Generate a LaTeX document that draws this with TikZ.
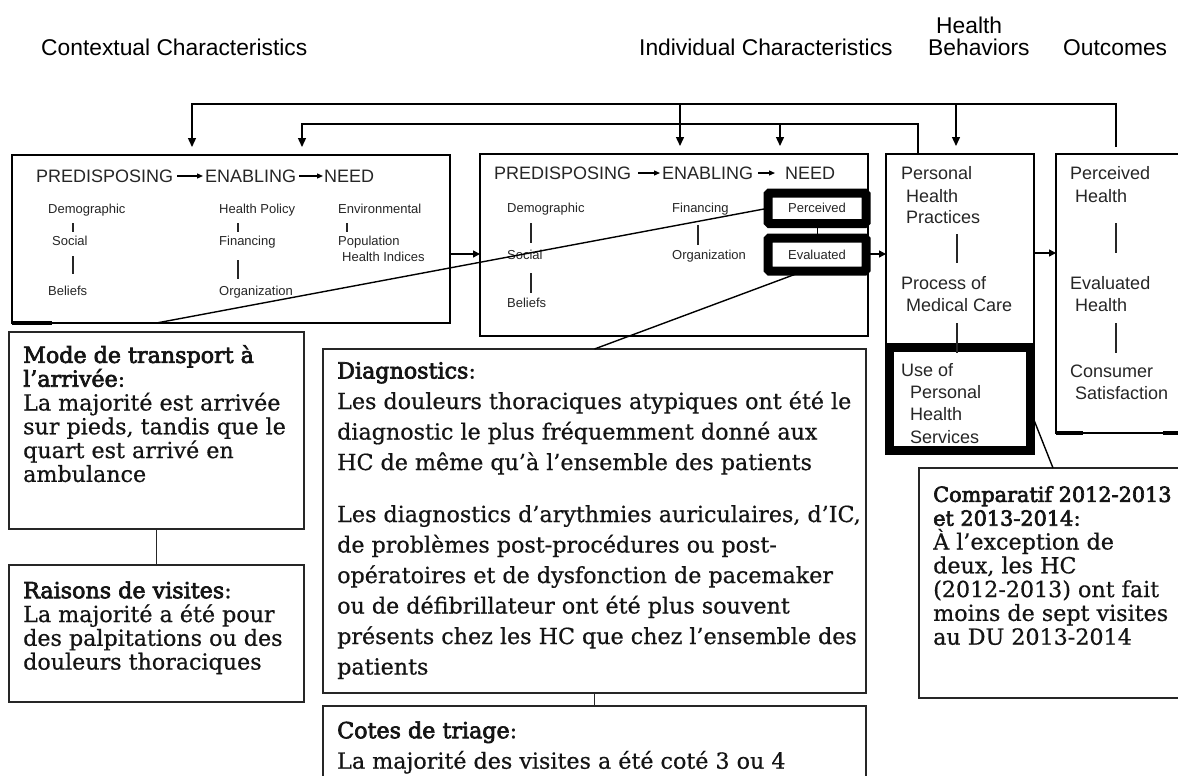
\documentclass[tikz,border=0pt]{standalone}
\usepackage{fontspec}
\newfontfamily\sansf{Liberation Sans}
\newfontfamily\serf[FakeBold=0.6]{DejaVu Serif}
\newfontfamily\serfb[FakeBold=3]{DejaVu Serif}
\newcommand\hd[1]{{\serfb #1}}
\usetikzlibrary{arrows.meta,calc}

\begin{document}
\begin{tikzpicture}[x=1pt,y=-1pt,
  hdr/.style={font=\sansf\fontsize{22.8}{22.8}\selectfont, anchor=west, inner sep=0pt, text height=16.3pt, text depth=0pt},
  md/.style={font=\sansf\fontsize{18}{18}\selectfont, anchor=west, inner sep=0pt, text height=12.9pt, text depth=0pt, text=black!85},
  sm/.style={font=\sansf\fontsize{13}{13}\selectfont, anchor=west, inner sep=0pt, text height=9.3pt, text depth=0pt, text=black!85},
  box/.style={draw, line width=2.6pt, inner sep=0pt, outer sep=0pt, anchor=north west},
  thickbox/.style={draw, fill=white, line width=9pt, rounded corners=1.5pt, inner sep=0pt, outer sep=0pt, anchor=north west},
  lowbox/.style={draw=black!85, line width=1.3pt, inner sep=0pt, outer sep=0pt, anchor=north west},
  lowtxt/.style={font=\serf\fontsize{22.2}{23.8}\selectfont, align=left, anchor=north west, inner sep=0pt, text=black!92},
  conn/.style={line width=1.4pt},
  inl/.style={line width=1.1pt, black!85},
  thinl/.style={line width=1.3pt, black!85},
  tipA/.style={-{Triangle[length=9pt,width=8pt]}},
  tipB/.style={-{Triangle[length=7pt,width=7pt]}},
  tipC/.style={line width=1.2pt, -{Triangle[length=6pt,width=5pt]}}
]
\useasboundingbox (0,0) rectangle (1178,776);
\fill[white] (0,0) rectangle (1178,776);
\clip (0,0) rectangle (1178,776);

% column headings
\node[hdr] (hCtx) at (41,47) {Contextual Characteristics};
\node[hdr] (hInd) at (639,47) {Individual Characteristics};
\node[hdr] (hHb1) at (936,25) {Health};
\node[hdr] (hHb2) at (928,47) {Behaviors};
\node[hdr] (hOut) at (1063,47) {Outcomes};

% main model boxes
\node[box, minimum width=438pt, minimum height=168pt] (b1) at (12,155) {};
\node[box, minimum width=388pt, minimum height=182pt] (b2) at (480,154) {};
\node[box, minimum width=148pt, minimum height=193pt] (b3) at (886,154) {};
\node[box, minimum width=160pt, minimum height=279pt] (b4) at (1056,154) {};
\draw[line width=4pt] (b1.south west) -- ++(40,0);

% contextual characteristics
\node[md] (pr1) at (36,176) {PREDISPOSING};
\node[md] (en1h) at (205,176) {ENABLING};
\node[md] (ne1) at (324,176) {NEED};
\draw[tipC, shorten <=4pt, shorten >=2pt] (pr1.east) -- (en1h.west);
\draw[tipC, shorten <=3pt, shorten >=1pt] (en1h.east) -- (ne1.west);

\node[sm] (d1) at (48,209) {Demographic};
\node[sm] (s1) at (52,241) {Social};
\node[sm] (be1) at (48,291) {Beliefs};
\draw[inl] ($(d1.west)+(25,14)$) -- ($(s1.west)+(21,-9)$);
\draw[inl] ($(s1.west)+(21,15)$) -- ($(be1.west)+(25,-17)$);
\node[sm] (hp1) at (219,209) {Health Policy};
\node[sm] (f1) at (219,241) {Financing};
\node[sm] (or1) at (219,291) {Organization};
\draw[inl] ($(hp1.west)+(19,14)$) -- ($(f1.west)+(19,-9)$);
\draw[inl] ($(f1.west)+(19,19)$) -- ($(or1.west)+(19,-12)$);
\node[sm] (en1) at (338,209) {Environmental};
\node[sm] (po1) at (338,241) {Population};
\node[sm] (hi1) at (342,257) {Health Indices};
\draw[inl] ($(en1.west)+(9,14)$) -- ($(po1.west)+(9,-9)$);

% individual characteristics
\node[md] (pr2) at (494,173) {PREDISPOSING};
\node[md] (en2h) at (662,173) {ENABLING};
\node[md] (ne2) at (785,173) {NEED};
\draw[tipC, shorten <=7pt, shorten >=2pt] (pr2.east) -- (en2h.west);
\draw[tipC, shorten <=5pt, shorten >=10pt] (en2h.east) -- (ne2.west);

\node[sm] (d2) at (507,208) {Demographic};
\node[sm] (s2) at (507,255) {Social};
\node[sm] (be2) at (507,303) {Beliefs};
\draw[inl] ($(d2.west)+(24,15)$) -- ($(s2.west)+(24,-12)$);
\draw[inl] ($(s2.west)+(24,18)$) -- ($(be2.west)+(24,-10)$);
\node[sm] (f2) at (672,208) {Financing};
\node[sm] (or2) at (672,255) {Organization};
\draw[inl] ($(f2.west)+(26,17)$) -- ($(or2.west)+(26,-10)$);

\node[thickbox, minimum width=98pt, minimum height=30.5pt, font=\sansf\fontsize{13}{13}\selectfont, text=black!85] (perc) at (768,193) {Perceived};
\node[thickbox, minimum width=98pt, minimum height=33pt, font=\sansf\fontsize{13}{13}\selectfont, text=black!85] (eval) at (768,238) {Evaluated};
\draw[line width=1pt] (perc.south) -- (eval.north);

% health behaviors
\node[thickbox, minimum width=141pt, minimum height=103pt, rounded corners=0pt] (use) at (889,347) {};
\node[md] (p1) at (901,173) {Personal};
\node[md] (p2) at (906,196) {Health};
\node[md] (p3) at (906,217) {Practices};
\node[md] (p4) at (901,283) {Process of};
\node[md] (p5) at (906,305) {Medical Care};
\node[md] (p6) at (901,370) {Use of};
\node[md] (p7) at (910,392) {Personal};
\node[md] (p8) at (910,414) {Health};
\node[md] (p9) at (910,437) {Services};
\draw[inl] ($(p3.west)+(51,17)$) -- ($(p4.west)+(56,-20)$);
\draw[inl] ($(p5.west)+(51,18)$) -- ($(p6.west)+(56,-17)$);

% outcomes
\node[md] (o1) at (1070,173) {Perceived};
\node[md] (o2) at (1075,196) {Health};
\node[md] (o3) at (1070,283) {Evaluated};
\node[md] (o4) at (1075,305) {Health};
\node[md] (o5) at (1070,371) {Consumer};
\node[md] (o6) at (1075,393) {Satisfaction};
\draw[inl] ($(o2.west)+(41,27)$) -- ($(o3.west)+(46,-30)$);
\draw[inl] ($(o4.west)+(41,18)$) -- ($(o5.west)+(46,-18)$);
\draw[line width=4pt] ($(b4.south west)+(0,0)$) -- ++(27,0);
\draw[line width=4pt] ($(b4.south west)+(107,0)$) -- ++(20,0);

% feedback loops along the top
\coordinate (k1) at (192,104);
\coordinate (k2) at (1116,104);
\coordinate (k3) at (680,104);
\coordinate (k4) at (956,104);
\coordinate (m1) at (302,124);
\coordinate (m2) at (918,124);
\coordinate (m3) at (780,124);
\draw[conn, tipA, shorten <=7pt, shorten >=8pt] (k2 |- b4.north) -- (k2) -- (k1) -- (k1 |- b1.north);
\draw[conn, tipA, shorten >=8pt] (k3) -- (k3 |- b2.north);
\draw[conn, tipA, shorten >=8pt] (k4) -- (k4 |- b3.north);
\draw[conn, tipA, shorten >=8pt] (m2 |- b3.north) -- (m2) -- (m1) -- (m1 |- b1.north);
\draw[conn, tipA, shorten >=8pt] (m3) -- (m3 |- b2.north);

% left-to-right flow
\coordinate (ya) at (0,254);
\coordinate (yb) at (0,253);
\draw[conn, tipB] (b1.east |- ya) -- (b2.west |- ya);
\draw[conn, tipB] (b2.east |- ya) -- (b3.west |- ya);
\draw[conn, tipB] (b3.east |- yb) -- (b4.west |- yb);

% findings
\node[lowbox, minimum width=295pt, minimum height=197pt] (mode) at (9,332) {};
\node[lowbox, minimum width=295pt, minimum height=137pt] (raisons) at (9,565) {};
\node[lowbox, minimum width=543pt, minimum height=344pt] (diag) at (323,349) {};
\node[lowbox, minimum width=543pt, minimum height=100pt] (cotes) at (323,706) {};
\node[lowbox, minimum width=280pt, minimum height=230pt] (comp) at (919,468) {};

\node[lowtxt] (tMode) at (23,340.7) {\rule{0pt}{22pt}\hd{Mode de transport à}\\\hd{l’arrivée}:\\La majorité est arrivée\\sur pieds, tandis que le\\quart est arrivé en\\ambulance};
\node[lowtxt] (tRais) at (23,576) {\rule{0pt}{22pt}\hd{Raisons de visites}:\\La majorité a été pour\\des palpitations ou des\\douleurs thoraciques};
\node[lowtxt, font=\serf\fontsize{22.2}{30.5}\selectfont] (tDiag) at (337,356.3) {\rule{0pt}{22pt}\hd{Diagnostics}:\\Les douleurs thoraciques atypiques ont été le\\diagnostic le plus fréquemment donné aux\\HC de même qu’à l’ensemble des patients\\[21.5pt]Les diagnostics d’arythmies auriculaires, d’IC,\\de problèmes post-procédures ou post-\\opératoires et de dysfonction de pacemaker\\ou de défibrillateur ont été plus souvent\\présents chez les HC que chez l’ensemble des\\patients};
\node[lowtxt, font=\serf\fontsize{22.2}{30.5}\selectfont] (tCote) at (337,716) {\rule{0pt}{22pt}\hd{Cotes de triage}:\\La majorité des visites a été coté 3 ou 4};
\node[lowtxt] (tComp) at (933,479.7) {\rule{0pt}{22pt}{\fontsize{20.8}{23.8}\selectfont\hd{Comparatif 2012-2013}}\\{\fontsize{20.8}{23.8}\selectfont\hd{et 2013-2014}}:\\À l’exception de\\deux, les HC\\(2012-2013) ont fait\\moins de sept visites\\au DU 2013-2014};

% callouts
\draw[conn] (perc.west) -- (mode.north |- b1.south);
\draw[conn] ($(eval.south)+(-13,0)$) -- (diag.north);
\draw[conn] ($(use.east)+(0,11.5)$) -- ($(comp.north west)+(134,0)$);
\draw[thinl] (mode.south) -- (raisons.north);
\draw[thinl] (diag.south) -- (cotes.north);
\end{tikzpicture}
\end{document}
